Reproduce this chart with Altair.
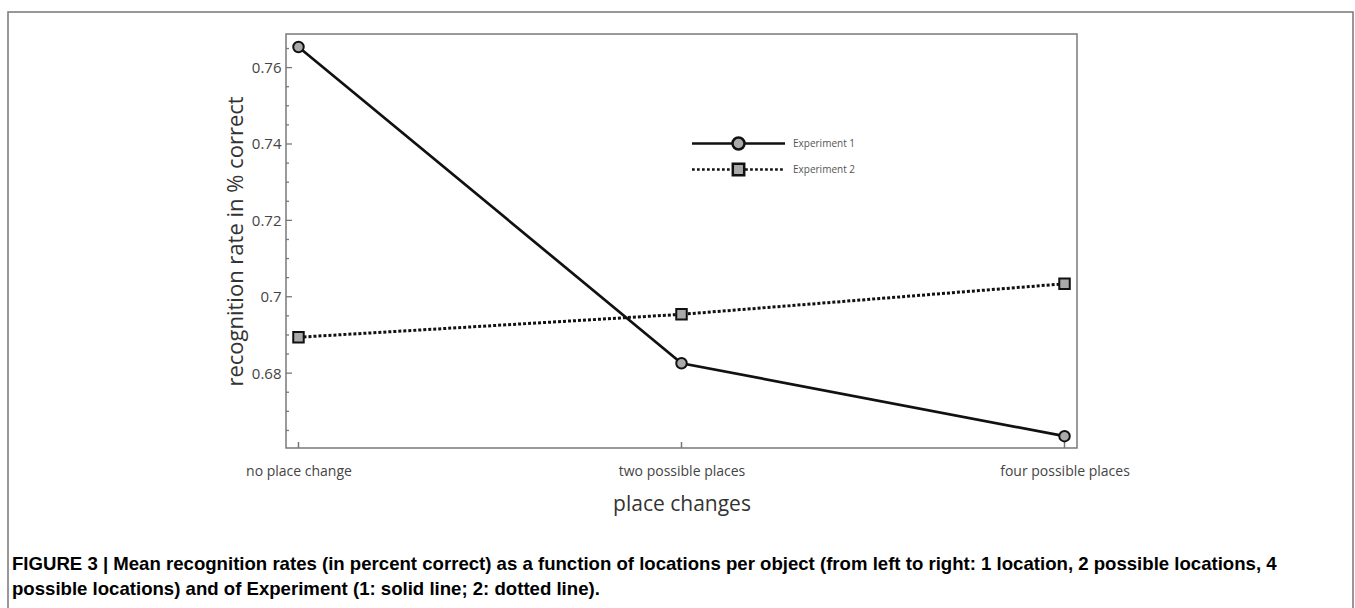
import altair as alt
import pandas as pd

categories = ["no place change", "two possible places", "four possible places"]
exp1 = [0.7654, 0.6826, 0.6635]
exp2 = [0.6894, 0.6954, 0.7034]
series_names = ["Experiment 1", "Experiment 2"]
y_labels = [0.68, 0.70, 0.72, 0.74, 0.76]
y_minor = [0.665, 0.67, 0.675, 0.685, 0.69, 0.695, 0.705, 0.71, 0.715,
           0.725, 0.73, 0.735, 0.745, 0.75, 0.755, 0.765]
caption = [
    "FIGURE 3 | Mean recognition rates (in percent correct) as a function of locations per object (from left to right: 1 location, 2 possible locations, 4",
    "possible locations) and of Experiment (1: solid line; 2: dotted line).",
]

W, H = 791, 414

rows = []
for c, v in zip(categories, exp1):
    rows.append({"place": c, "rate": v, "series": series_names[0]})
for c, v in zip(categories, exp2):
    rows.append({"place": c, "rate": v, "series": series_names[1]})
df = pd.DataFrame(rows)

xscale = alt.Scale(type="point", domain=categories, padding=0.0326)
yscale = alt.Scale(domain=[0.6604, 0.7688], nice=False, zero=False)

x_enc = alt.X("place:N", scale=xscale, sort=categories,
              axis=alt.Axis(title="place changes", ticks=False, domain=False,
                            labelAngle=0, labelAlign="center", labelPadding=23,
                            labelFontSize=14, labelColor="#444", labelFont="Open Sans",
                            titleFont="Open Sans", titleFontSize=21,
                            titleFontWeight="normal", titleColor="#333",
                            titlePadding=15))
y_enc = alt.Y("rate:Q", scale=yscale,
              axis=alt.Axis(title="recognition rate in % correct", values=y_labels,
                            format=".2~f", ticks=False, domain=False, grid=False,
                            labelPadding=5, labelFontSize=15, labelColor="#444",
                            labelFont="Open Sans", titleFont="Open Sans",
                            titleFontSize=22, titleFontWeight="normal",
                            titleColor="#333", titlePadding=4))

base = alt.Chart(df)

line1 = base.transform_filter(alt.datum.series == series_names[0]).mark_line(
    color="#111", strokeWidth=2.7).encode(x=x_enc, y=y_enc)
line2 = base.transform_filter(alt.datum.series == series_names[1]).mark_line(
    color="#111", strokeWidth=3, strokeDash=[3, 2]).encode(x=x_enc, y=y_enc)
pts1 = base.transform_filter(alt.datum.series == series_names[0]).mark_point(
    shape="circle", filled=True, fill="#aaaaaa", stroke="#111", strokeWidth=2,
    size=110, opacity=1).encode(x=x_enc, y=y_enc)
pts2 = base.transform_filter(alt.datum.series == series_names[1]).mark_point(
    shape="square", filled=True, fill="#aaaaaa", stroke="#111", strokeWidth=2,
    size=110, opacity=1).encode(x=x_enc, y=y_enc)

# legend glyphs: line + marker drawn as one symbol path (unit = 6 px)
circle_path = "M-7.75,0H-1 M1,0H7.75 M1,0A1,1 0 1,1 -1,0A1,1 0 1,1 1,0Z"


def dots(start, stop):
    segs = []
    x = start
    while x + 0.45 <= stop:
        segs.append(f"M{x:.3f},0h0.45")
        x += 0.833
    return " ".join(segs)


square_path = (dots(-7.75, -1.0) + " " + dots(1.1, 7.85) +
               " M-0.95,-0.95H0.95V0.95H-0.95Z")

leg = dict(title=None, orient="none", legendX=445, legendY=102,
           symbolSize=144, symbolStrokeWidth=2.5, labelFont="Open Sans",
           labelFontSize=10, labelColor="#555", labelOffset=47, rowPadding=3,
           padding=0)

legend_layer = base.transform_filter("false").mark_point(
    filled=False, strokeWidth=2.5, opacity=1).encode(
    x=x_enc, y=y_enc,
    shape=alt.Shape("series:N",
                    scale=alt.Scale(domain=series_names, range=[circle_path, square_path]),
                    legend=alt.Legend(**leg)),
    stroke=alt.Stroke("series:N",
                      scale=alt.Scale(domain=series_names, range=["#111111", "#111111"]),
                      legend=alt.Legend(**leg)),
    fill=alt.Fill("series:N",
                  scale=alt.Scale(domain=series_names, range=["#aaaaaa", "#aaaaaa"]),
                  legend=alt.Legend(**leg)),
)

ymaj_df = pd.DataFrame({"v": y_labels})
ymin_df = pd.DataFrame({"v": y_minor})
ytick_major = alt.Chart(ymaj_df).mark_rule(color="#777", strokeWidth=1.3).encode(
    y=alt.Y("v:Q", scale=yscale), x=alt.value(0), x2=alt.value(6))
ytick_minor = alt.Chart(ymin_df).mark_rule(color="#777", strokeWidth=1.3).encode(
    y=alt.Y("v:Q", scale=yscale), x=alt.value(0), x2=alt.value(3))
xtick_df = pd.DataFrame({"place": categories})
xticks = alt.Chart(xtick_df).mark_rule(color="#777", strokeWidth=1.5).encode(
    x=alt.X("place:N", scale=xscale, sort=categories), y=alt.value(H), y2=alt.value(H - 6))

frame_df = pd.DataFrame({"k": [0]})
outer = alt.Chart(frame_df).mark_rect(fill=None, stroke="#777", strokeWidth=1.5).encode(
    x=alt.value(-278), x2=alt.value(1067), y=alt.value(-22), y2=alt.value(600))

cap_df = pd.DataFrame({"t": ["\n".join(caption)]})
cap = alt.Chart(cap_df).mark_text(
    align="left", baseline="alphabetic", lineBreak="\n", lineHeight=25,
    font="Liberation Sans", fontSize=18.6, fontWeight="bold", color="#000").encode(
    text="t:N", x=alt.value(-274), y=alt.value(536))

chart = alt.layer(outer, ytick_major, ytick_minor, xticks, line1, line2, pts1, pts2,
                  legend_layer, cap).properties(
    width=W, height=H,
    background="white",
    padding={"left": 286, "top": 34, "right": 278, "bottom": 160},
    autosize=alt.AutoSizeParams(type="none"),
).configure_view(stroke="#7a7a7a", strokeWidth=1.5)

chart.save("out.html", embed_options={"renderer": "svg", "actions": False})
